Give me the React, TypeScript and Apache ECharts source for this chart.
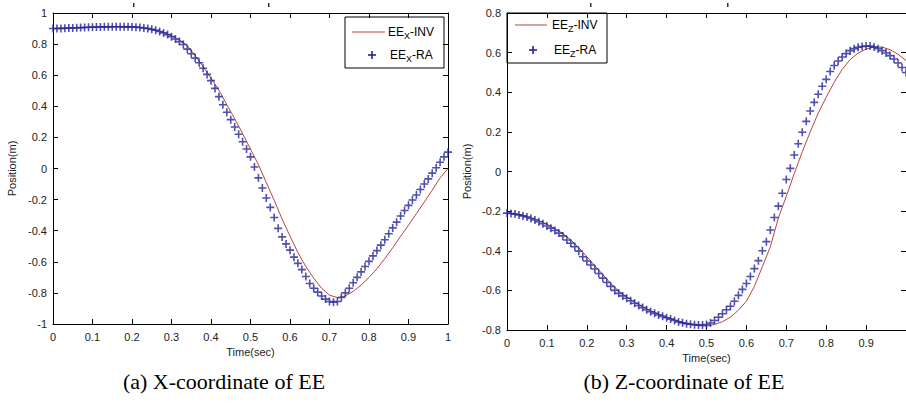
import React, { useEffect, useRef } from "react";
import * as echarts from "echarts";

// Sampling steps (s)
const RA_STEP = 0.01;
const INV_STEP = 0.02;

// (a) X-coordinate of EE — RA markers (every 0.01 s)
const X_RA = [
  0.900, 0.900, 0.901, 0.902, 0.903, 0.904, 0.905, 0.906, 0.907, 0.908,
  0.909, 0.910, 0.910, 0.911, 0.911, 0.912, 0.912, 0.912, 0.911, 0.911,
  0.910, 0.909, 0.907, 0.904, 0.900, 0.895, 0.889, 0.881, 0.872, 0.861,
  0.848, 0.833, 0.816, 0.797, 0.768, 0.738, 0.710, 0.680, 0.645, 0.605,
  0.565, 0.515, 0.462, 0.410, 0.362, 0.314, 0.267, 0.220, 0.172, 0.125,
  0.075, 0.010, -0.060, -0.125, -0.190, -0.250, -0.315, -0.385, -0.440, -0.485,
  -0.525, -0.570, -0.610, -0.650, -0.695, -0.740, -0.770, -0.795, -0.820, -0.840,
  -0.855, -0.860, -0.855, -0.830, -0.800, -0.770, -0.735, -0.700, -0.665, -0.630,
  -0.597, -0.562, -0.528, -0.493, -0.458, -0.420, -0.382, -0.345, -0.305, -0.270,
  -0.237, -0.203, -0.170, -0.135, -0.100, -0.067, -0.030, 0.005, 0.040, 0.075,
  0.105,
];

// (a) X-coordinate of EE — INV line (every 0.02 s)
const X_INV = [
  0.900, 0.901, 0.903, 0.905, 0.907, 0.909, 0.910, 0.911, 0.912, 0.911,
  0.910, 0.907, 0.901, 0.890, 0.875, 0.853, 0.825, 0.790, 0.725, 0.655,
  0.580, 0.505, 0.410, 0.320, 0.225, 0.125, 0.025, -0.090, -0.205, -0.325,
  -0.435, -0.540, -0.630, -0.705, -0.770, -0.815, -0.830, -0.820, -0.790, -0.750,
  -0.700, -0.645, -0.580, -0.510, -0.435, -0.365, -0.290, -0.215, -0.140, -0.060,
  0.000,
];

// (b) Z-coordinate of EE — RA markers (every 0.01 s)
const Z_RA = [
  -0.210, -0.212, -0.215, -0.219, -0.224, -0.230, -0.237, -0.245, -0.254, -0.264,
  -0.275, -0.286, -0.298, -0.311, -0.325, -0.346, -0.362, -0.380, -0.402, -0.430,
  -0.452, -0.472, -0.492, -0.515, -0.538, -0.560, -0.580, -0.600, -0.615, -0.628,
  -0.640, -0.652, -0.665, -0.676, -0.687, -0.698, -0.708, -0.716, -0.724, -0.731,
  -0.738, -0.745, -0.752, -0.759, -0.764, -0.768, -0.771, -0.773, -0.775, -0.775,
  -0.772, -0.765, -0.752, -0.736, -0.718, -0.698, -0.680, -0.655, -0.625, -0.595,
  -0.565, -0.530, -0.490, -0.450, -0.400, -0.354, -0.295, -0.232, -0.175, -0.110,
  -0.040, 0.016, 0.083, 0.140, 0.198, 0.253, 0.305, 0.349, 0.390, 0.430,
  0.465, 0.505, 0.535, 0.558, 0.578, 0.595, 0.610, 0.620, 0.627, 0.631,
  0.633, 0.633, 0.628, 0.620, 0.610, 0.598, 0.585, 0.568, 0.548, 0.525,
  0.500,
];

// (b) Z-coordinate of EE — INV line (every 0.02 s)
const Z_INV = [
  -0.210, -0.214, -0.222, -0.233, -0.248, -0.266, -0.288, -0.313, -0.345, -0.385,
  -0.430, -0.475, -0.520, -0.565, -0.603, -0.633, -0.660, -0.683, -0.703, -0.720,
  -0.735, -0.749, -0.762, -0.772, -0.778, -0.780, -0.772, -0.758, -0.735, -0.700,
  -0.655, -0.580, -0.480, -0.380, -0.235, -0.125, -0.010, 0.100, 0.200, 0.295,
  0.375, 0.450, 0.515, 0.565, 0.598, 0.618, 0.628, 0.628, 0.615, 0.592,
  0.560,
];

const LEGEND_X = { inv: "-INV", ra: "-RA", sub: "X" };
const LEGEND_Z = { inv: "-INV", ra: "-RA", sub: "Z" };
const CAPTIONS = ["(a) X-coordinate of EE", "(b) Z-coordinate of EE"];
const X_NAME = "Time(sec)";
const Y_NAME = "Position(m)";

const RED = "#b8453c";
const BLUE = "#24249a";
const PLUS = "path://M4,0 L6,0 L6,4 L10,4 L10,6 L6,6 L6,10 L4,10 L4,6 L0,6 L0,4 L4,4 Z";
const SANS = "'Liberation Sans', Arial, sans-serif";
const SERIF = "'Liberation Serif', 'Times New Roman', serif";

const toPairs = (vals: number[], step: number) =>
  vals.map((v, i) => [Number((i * step).toFixed(3)), v]);

export default function App() {
  const ref = useRef<HTMLDivElement>(null);

  useEffect(() => {
    if (!ref.current) return;
    const chart = echarts.init(ref.current, undefined, { renderer: "svg" });

    const axisLine = { show: true, onZero: false, lineStyle: { color: "#000", width: 1 } };
    const tick = { show: true, inside: true, length: 5, lineStyle: { color: "#000", width: 1 } };
    const label = { color: "#222", fontSize: 11, fontFamily: SANS };
    const nameStyle = { color: "#222", fontSize: 11, fontFamily: SANS };

    const xAx = (grid: number, pos: "bottom" | "top", showMax: boolean) => ({
      type: "value",
      gridIndex: grid,
      position: pos,
      min: 0,
      max: 1,
      interval: 0.1,
      axisLine,
      axisTick: tick,
      splitLine: { show: false },
      axisLabel: pos === "bottom" ? { ...label, margin: 7, showMaxLabel: showMax } : { show: false },
      ...(pos === "bottom"
        ? { name: X_NAME, nameLocation: "middle", nameGap: 17, nameTextStyle: nameStyle }
        : {}),
    });
    const yAx = (grid: number, pos: "left" | "right", lim: number, gap: number) => ({
      type: "value",
      gridIndex: grid,
      position: pos,
      min: -lim,
      max: lim,
      interval: 0.2,
      axisLine,
      axisTick: tick,
      splitLine: { show: false },
      axisLabel: pos === "left" ? { ...label, margin: 6 } : { show: false },
      ...(pos === "left"
        ? { name: Y_NAME, nameLocation: "middle", nameGap: gap, nameTextStyle: nameStyle }
        : {}),
    });

    const rich = {
      n: { fontSize: 12, fontFamily: SANS, color: "#222", lineHeight: 16 },
      s: { fontSize: 9, fontFamily: SANS, color: "#222", lineHeight: 9, verticalAlign: "bottom" },
    };
    const legend = (
      bx: number, by: number, bw: number, bh: number,
      r1: number, r2: number, lx1: number, lx2: number, tx: number, px: number,
      L: { inv: string; ra: string; sub: string }
    ) => [
      { type: "rect", shape: { x: bx, y: by, width: bw, height: bh }, style: { fill: "#fff", stroke: "#000", lineWidth: 1 } },
      { type: "line", shape: { x1: lx1, y1: r1, x2: lx2, y2: r1 }, style: { stroke: RED, lineWidth: 1 } },
      { type: "text", x: tx, y: r1, style: { text: `{n|EE}{s|${L.sub}}{n|${L.inv}}`, rich, verticalAlign: "middle", align: "left" } },
      { type: "rect", shape: { x: px - 4, y: r2 - 0.8, width: 8, height: 1.6 }, style: { fill: BLUE } },
      { type: "rect", shape: { x: px - 0.8, y: r2 - 4, width: 1.6, height: 8 }, style: { fill: BLUE } },
      { type: "text", x: tx + 2, y: r2, style: { text: `{n|EE}{s|${L.sub}}{n|${L.ra}}`, rich, verticalAlign: "middle", align: "left" } },
    ];

    const marks = [133, 268, 590, 727].map((x) => ({
      type: "rect",
      shape: { x, y: 3, width: 1.5, height: 4 },
      style: { fill: "#333" },
    }));

    chart.setOption({
      animation: false,
      backgroundColor: "#fff",
      grid: [
        { left: 53, top: 13, width: 395, height: 311 },
        { left: 507, top: 13, width: 402, height: 317 },
      ],
      xAxis: [xAx(0, "bottom", true), xAx(0, "top", true), xAx(1, "bottom", false), xAx(1, "top", false)],
      yAxis: [yAx(0, "left", 1, 36), yAx(0, "right", 1, 36), yAx(1, "left", 0.8, 35), yAx(1, "right", 0.8, 35)],
      series: [
        { type: "line", xAxisIndex: 0, yAxisIndex: 0, data: toPairs(X_INV, INV_STEP), showSymbol: false, lineStyle: { color: RED, width: 1 }, z: 2 },
        { type: "scatter", xAxisIndex: 0, yAxisIndex: 0, data: toPairs(X_RA, RA_STEP), symbol: PLUS, symbolSize: 8, itemStyle: { color: BLUE }, z: 3 },
        { type: "line", xAxisIndex: 2, yAxisIndex: 2, data: toPairs(Z_INV, INV_STEP), showSymbol: false, lineStyle: { color: RED, width: 1 }, z: 2 },
        { type: "scatter", xAxisIndex: 2, yAxisIndex: 2, data: toPairs(Z_RA, RA_STEP), symbol: PLUS, symbolSize: 8, itemStyle: { color: BLUE }, z: 3 },
      ],
      graphic: [
        ...legend(345, 17, 99, 51, 32, 55, 352, 385, 388, 372, LEGEND_X),
        ...legend(507, 13, 100, 50, 25, 50, 515, 547, 552, 533, LEGEND_Z),
        ...marks,
        { type: "text", x: 224, y: 381, style: { text: CAPTIONS[0], fontSize: 22, fontFamily: SERIF, fill: "#000", align: "center", verticalAlign: "middle" } },
        { type: "text", x: 684, y: 381, style: { text: CAPTIONS[1], fontSize: 22, fontFamily: SERIF, fill: "#000", align: "center", verticalAlign: "middle" } },
      ],
    });

    return () => chart.dispose();
  }, []);

  return (
    <div
      ref={ref}
      style={{ position: "fixed", left: 0, top: 0, width: 906, height: 406, background: "#fff" }}
    />
  );
}
